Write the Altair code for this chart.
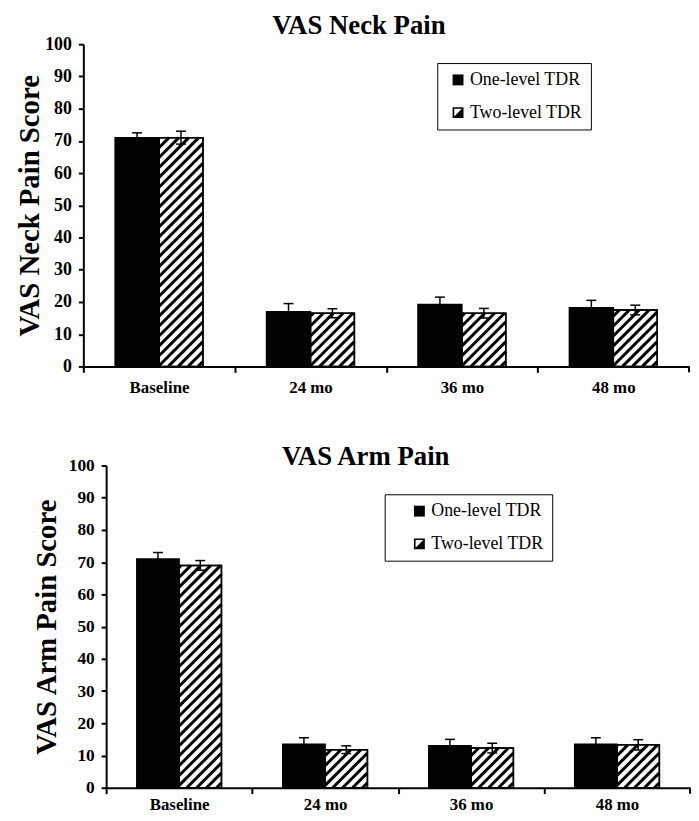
import json
import altair as alt
import pandas as pd

# ---------------- data ----------------
categories = ["Baseline", "24 mo", "36 mo", "48 mo"]
groups = ["One-level TDR", "Two-level TDR"]

neck_one = [71.0, 17.0, 19.2, 18.2]
neck_one_err = [1.5, 2.5, 2.3, 2.3]
neck_two = [71.0, 16.5, 16.5, 17.5]
neck_two_err = [2.0, 1.4, 1.5, 1.5]

arm_one = [71.0, 13.5, 13.0, 13.5]
arm_one_err = [2.0, 2.0, 2.0, 2.0]
arm_two = [69.0, 11.8, 12.3, 13.3]
arm_two_err = [1.5, 1.2, 1.5, 1.6]

y_ticks = list(range(0, 101, 10))

# ---------------- style ----------------
FONT = "Liberation Serif"
BAR_W = 0.29          # bar width as fraction of a category band
HATCH_PERIOD = 10     # px, horizontal period of hatch lines
HATCH_W = 3.0         # px
CAP_HALF = 5          # px
XTICK = 6             # px

SQUARE = "M-1,-1H1V1H-1Z"
HALF = "M-1,-1H1V1H-1Z M-0.7,-0.7V0.7H0.7V-0.7Z M0.7,-0.7V0.7H-0.7Z"


def panel(title, ytitle, one, one_err, two, two_err, width, height,
          legend_x, legend_y, legend_pad, sym_offset, label_suffix,
          tick_font, title_pad, title_offset, title_dx, ytitle_lh, xlabel_pad):
    n = len(categories)
    pxx = width / n
    pxy = height / 100.0
    rows = []
    for i, c in enumerate(categories):
        for g, vals, errs in ((groups[0], one, one_err), (groups[1], two, two_err)):
            x0 = i + 0.5 - BAR_W if g == groups[0] else i + 0.5
            v = vals[i]
            e = errs[i]
            cx = x0 + BAR_W / 2
            rows.append(dict(cat=c, group=g, x0=x0, x1=x0 + BAR_W, value=v, base=0.0,
                             lo=v - e, hi=v + e, cx=cx,
                             cl=cx - CAP_HALF / pxx, cr=cx + CAP_HALF / pxx))
    bars = pd.DataFrame(rows)

    # hatch segments for two-level bars, derived from bar values
    seg = []
    for r in rows:
        if r["group"] != groups[1]:
            continue
        X0 = r["x0"] * pxx
        W = BAR_W * pxx
        H = r["value"] * pxy
        c = -W + HATCH_PERIOD / 2
        while c < H:
            if c < 0:
                sx, sy = X0 - c, 0.0
            else:
                sx, sy = X0, c
            if c + W > H:
                ex, ey = X0 + (H - c), H
            else:
                ex, ey = X0 + W, c + W
            seg.append(dict(hx0=sx / pxx, hx1=ex / pxx, hy0=sy / pxy, hy1=ey / pxy))
            c += HATCH_PERIOD
    hatch = pd.DataFrame(seg)
    end_tick = pd.DataFrame({"tx": [float(n)], "t0": [0.0], "t1": [-XTICK / pxy]})

    label_expr = json.dumps(categories) + "[datum.value]"
    xscale = alt.Scale(domain=[0, n], nice=False, zero=False)
    yscale = alt.Scale(domain=[0, 100], nice=False)
    xaxis = alt.Axis(values=list(range(n)), labelExpr=label_expr,
                     labelOffset=pxx / 2, labelFlush=False, labelOverlap=False,
                     tickSize=XTICK, tickWidth=2, domainWidth=2, domainColor="black",
                     tickColor="black", labelColor="black", labelFont=FONT,
                     labelFontSize=17, labelFontWeight="bold", labelPadding=xlabel_pad,
                     grid=False, title=None)
    yaxis = alt.Axis(values=y_ticks, tickSize=5, tickWidth=2, domainWidth=2,
                     domainColor="black", tickColor="black", labelColor="black",
                     labelFont=FONT, labelFontSize=tick_font, labelFontWeight="bold",
                     labelPadding=7, grid=False, title=ytitle, titleFont=FONT,
                     titleFontSize=29, titleFontWeight="bold", titleColor="black",
                     titlePadding=title_pad, titleLineHeight=ytitle_lh)

    def X(f):
        return alt.X(f, type="quantitative", scale=xscale, axis=xaxis)

    def Y(f):
        return alt.Y(f, type="quantitative", scale=yscale, axis=yaxis)

    base = alt.Chart(bars)
    one_bars = base.transform_filter(alt.datum.group == groups[0]).mark_rect(
        fill="black", stroke="black", strokeWidth=1.5).encode(
        x=X("x0"), x2="x1", y=Y("value"), y2="base")
    two_bars = base.transform_filter(alt.datum.group == groups[1]).mark_rect(
        fill="white", stroke="black", strokeWidth=1.5).encode(
        x=X("x0"), x2="x1", y=Y("value"), y2="base")
    hatch_l = alt.Chart(hatch).mark_rule(color="black", strokeWidth=HATCH_W).encode(
        x=X("hx0"), x2="hx1", y=Y("hy0"), y2="hy1")
    outline = base.transform_filter(alt.datum.group == groups[1]).mark_rect(
        fill="white", fillOpacity=0, stroke="black", strokeWidth=1.5).encode(
        x=X("x0"), x2="x1", y=Y("value"), y2="base")
    err = base.mark_rule(color="black", strokeWidth=1.5).encode(
        x=X("cx"), y=Y("lo"), y2="hi")
    cap_hi = base.mark_rule(color="black", strokeWidth=1.5).encode(
        x=X("cl"), x2="cr", y=Y("hi"))
    cap_lo = base.mark_rule(color="black", strokeWidth=1.5).encode(
        x=X("cl"), x2="cr", y=Y("lo"))
    endt = alt.Chart(end_tick).mark_rule(color="black", strokeWidth=2).encode(
        x=X("tx"), y=Y("t0"), y2="t1")
    legend_layer = base.mark_point(filled=True, size=0).encode(
        x=X("cx"), y=Y("base"),
        color=alt.value("black"),
        shape=alt.Shape("group:N",
                        scale=alt.Scale(domain=groups, range=[SQUARE, HALF]),
                        legend=alt.Legend(title=None, orient="none", legendX=legend_x,
                                          legendY=legend_y, strokeColor="black",
                                          padding=legend_pad, symbolOffset=sym_offset,
                                          labelFont=FONT, labelFontSize=18,
                                          labelFontWeight="normal",
                                          labelColor="black", symbolSize=121,
                                          symbolStrokeWidth=0, symbolOpacity=1,
                                          symbolFillColor="black", rowPadding=15,
                                          labelOffset=3, labelLimit=300,
                                          labelExpr="datum.label + '" + label_suffix + "'")))
    return alt.layer(two_bars, hatch_l, outline, one_bars, err, cap_hi, cap_lo, endt,
                     legend_layer).properties(
        width=width, height=height,
        title=alt.TitleParams(title, font=FONT, fontSize=27, fontWeight="bold",
                              color="black", anchor="middle", frame="bounds",
                              offset=title_offset, dx=title_dx))


def spacer():
    return alt.Chart(pd.DataFrame({"sv": [0]})).mark_point(opacity=0).encode(
        x=alt.X("sv:Q", axis=None), y=alt.Y("sv:Q", axis=None)).properties(width=1, height=1)


top = panel("VAS Neck Pain", "VAS  Neck Pain Score", neck_one, neck_one_err,
            neck_two, neck_two_err, 611, 325, 429, 19, 8, 4, "\u00a0" * 2,
            18, 0, -5, 6, 29, 7)
bottom = panel("VAS Arm Pain", ["", "VAS  Arm Pain Score"], arm_one, arm_one_err,
               arm_two, arm_two_err, 589, 325, 376, 29, 8, 18,
               "\u00a0" * 14, 17.5, 7, -14, 12, 16, 3)

top_row = alt.hconcat(spacer(), top, spacing=0).resolve_scale(x="independent", y="independent")
bottom_row = alt.hconcat(spacer(), bottom, spacing=0).resolve_scale(x="independent", y="independent")

chart = alt.vconcat(top_row, bottom_row, spacing=48).resolve_scale(
    shape="independent").resolve_legend(shape="independent").properties(
    padding={"left": 1, "top": 1, "right": 0, "bottom": 0}
).configure(background="white").configure_view(
    stroke="transparent", strokeWidth=0
).configure_legend(labelFont=FONT)

chart.save("out.html", embed_options={"renderer": "svg", "actions": False})
